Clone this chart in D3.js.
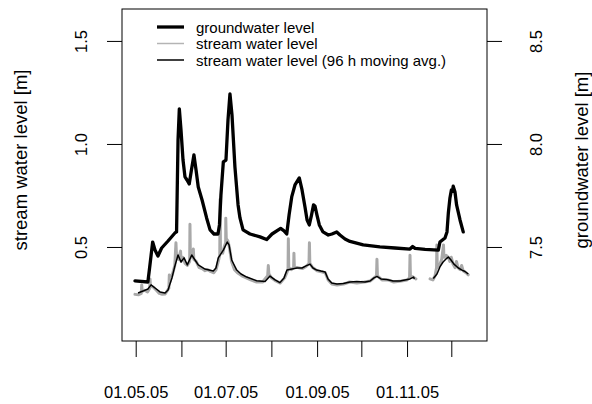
<!DOCTYPE html>
<html><head><meta charset="utf-8">
<script src="https://cdn.jsdelivr.net/npm/d3@7"></script>
<style>
body{margin:0;background:#fff}
svg{display:block}
text{font-family:"Liberation Sans",Arial,Helvetica,sans-serif;fill:#000}
</style>
</head><body>
<svg id="c" width="592" height="404"></svg>
<script>
// ---------------- data ----------------
const gwDates = ["2005-04-30 12","2005-05-09 06","2005-05-10 10","2005-05-12 12","2005-05-14 02","2005-05-16 02","2005-05-18 14","2005-05-22 22","2005-05-27 14","2005-05-28 17","2005-05-29 17","2005-05-30 14","2005-05-31 17","2005-06-02 02","2005-06-03 10","2005-06-04 19","2005-06-06 07","2005-06-07 19","2005-06-09 12","2005-06-10 22","2005-06-12 10","2005-06-15 00","2005-06-18 02","2005-06-20 10","2005-06-23 02","2005-06-25 19","2005-06-26 19","2005-06-27 19","2005-06-29 10","2005-07-01 05","2005-07-02 14","2005-07-03 22","2005-07-05 07","2005-07-07 07","2005-07-09 10","2005-07-10 17","2005-07-12 19","2005-07-17 12","2005-07-24 07","2005-07-28 19","2005-08-01 10","2005-08-07 07","2005-08-09 14","2005-08-11 10","2005-08-13 00","2005-08-14 19","2005-08-17 00","2005-08-19 22","2005-08-21 19","2005-08-23 19","2005-08-25 05","2005-08-26 17","2005-08-28 05","2005-08-29 14","2005-08-30 14","2005-08-31 22","2005-09-02 12","2005-09-05 00","2005-09-08 14","2005-09-11 02","2005-09-14 07","2005-09-16 12","2005-09-19 22","2005-09-23 07","2005-10-02 07","2005-10-13 14","2005-10-23 19","2005-11-03 00","2005-11-04 19","2005-11-06 10","2005-11-13 05","2005-11-22 05","2005-11-23 07","2005-11-26 17","2005-11-28 02","2005-11-29 00","2005-11-30 02","2005-12-01 02","2005-12-01 19","2005-12-02 07","2005-12-03 12","2005-12-04 14","2005-12-06 22","2005-12-09 02"];
const gwValues = [7.335,7.330,7.398,7.524,7.485,7.456,7.495,7.529,7.568,7.573,8.020,8.170,8.068,7.922,7.840,7.825,7.806,7.874,7.947,7.874,7.791,7.728,7.641,7.583,7.563,7.563,7.607,7.752,7.913,7.922,8.117,8.243,8.141,7.888,7.704,7.641,7.583,7.563,7.549,7.536,7.563,7.590,7.578,7.563,7.655,7.743,7.801,7.835,7.777,7.694,7.631,7.607,7.655,7.704,7.699,7.655,7.607,7.573,7.558,7.563,7.573,7.558,7.539,7.527,7.510,7.501,7.495,7.490,7.502,7.493,7.488,7.485,7.524,7.544,7.573,7.665,7.738,7.777,7.770,7.795,7.767,7.704,7.631,7.573];

const avgDates = ["2005-05-02 14","2005-05-05 22","2005-05-09 07","2005-05-11 10","2005-05-14 02","2005-05-17 12","2005-05-20 22","2005-05-22 22","2005-05-25 14","2005-05-27 14","2005-05-29 17","2005-05-31 17","2005-06-02 19","2005-06-05 00","2005-06-08 00","2005-06-10 05","2005-06-12 10","2005-06-17 00","2005-06-22 14","2005-06-24 10","2005-06-26 00","2005-06-29 10","2005-07-02 02","2005-07-03 07","2005-07-05 02","2005-07-08 12","2005-07-11 10","2005-07-15 07","2005-07-22 00","2005-07-27 17","2005-07-31 02","2005-08-03 12","2005-08-06 19","2005-08-09 14","2005-08-11 14","2005-08-15 00","2005-08-18 10","2005-08-21 19","2005-08-24 12","2005-08-27 05","2005-08-29 05","2005-08-31 17","2005-09-03 14","2005-09-06 10","2005-09-08 10","2005-09-10 22","2005-09-14 12","2005-09-18 19","2005-09-23 07","2005-09-27 22","2005-10-03 12","2005-10-06 22","2005-10-09 14","2005-10-11 14","2005-10-14 07","2005-10-18 05","2005-10-22 12","2005-10-27 05","2005-10-30 14","2005-11-03 00","2005-11-05 10","2005-11-06 00","2005-11-13 00","2005-11-18 19","2005-11-21 07","2005-11-23 07","2005-11-25 10","2005-11-27 10","2005-11-29 00","2005-11-30 19","2005-12-02 19","2005-12-05 19","2005-12-08 07","2005-12-10 07","2005-12-12 12"];
const avgValues = [0.277,0.286,0.296,0.316,0.301,0.282,0.277,0.291,0.350,0.408,0.461,0.427,0.447,0.413,0.461,0.437,0.413,0.393,0.383,0.398,0.447,0.485,0.524,0.510,0.437,0.388,0.369,0.354,0.336,0.332,0.359,0.340,0.327,0.350,0.388,0.393,0.398,0.398,0.408,0.417,0.398,0.388,0.383,0.379,0.345,0.325,0.320,0.323,0.330,0.332,0.330,0.335,0.350,0.357,0.345,0.342,0.335,0.335,0.340,0.345,0.354,0.345,null,0.347,0.369,0.403,0.427,0.442,0.451,0.437,0.417,0.398,0.388,0.381,0.369];

const streamDates = ["2005-04-30 12","2005-05-03 00","2005-05-04 19","2005-05-05 02","2005-05-05 10","2005-05-07 00","2005-05-09 00","2005-05-10 12","2005-05-10 17","2005-05-11 00","2005-05-13 00","2005-05-15 00","2005-05-17 00","2005-05-19 00","2005-05-21 00","2005-05-23 12","2005-05-23 19","2005-05-24 05","2005-05-26 00","2005-05-27 12","2005-05-28 07","2005-05-28 17","2005-05-30 00","2005-05-31 10","2005-05-31 19","2005-06-02 00","2005-06-03 12","2005-06-05 00","2005-06-06 14","2005-06-06 19","2005-06-07 02","2005-06-08 12","2005-06-09 02","2005-06-09 10","2005-06-11 00","2005-06-13 00","2005-06-15 00","2005-06-17 00","2005-06-19 00","2005-06-21 00","2005-06-23 00","2005-06-24 12","2005-06-26 00","2005-06-27 00","2005-06-27 05","2005-06-27 12","2005-06-29 00","2005-06-30 00","2005-07-01 00","2005-07-01 02","2005-07-01 10","2005-07-02 12","2005-07-03 12","2005-07-05 00","2005-07-07 00","2005-07-09 00","2005-07-12 00","2005-07-15 00","2005-07-18 00","2005-07-22 00","2005-07-26 00","2005-07-29 12","2005-07-29 22","2005-07-30 07","2005-08-01 00","2005-08-04 00","2005-08-07 00","2005-08-10 00","2005-08-12 07","2005-08-12 12","2005-08-12 19","2005-08-14 12","2005-08-16 02","2005-08-16 07","2005-08-16 14","2005-08-19 00","2005-08-22 00","2005-08-24 12","2005-08-26 12","2005-08-26 19","2005-08-27 02","2005-08-29 00","2005-09-01 00","2005-09-04 00","2005-09-06 12","2005-09-08 12","2005-09-11 00","2005-09-14 12","2005-09-19 00","2005-09-23 00","2005-09-28 00","2005-10-03 00","2005-10-07 00","2005-10-11 07","2005-10-11 14","2005-10-11 22","2005-10-15 00","2005-10-19 00","2005-10-23 00","2005-10-28 00","2005-11-01 00","2005-11-02 17","2005-11-03 00","2005-11-03 07","2005-11-05 00","2005-11-07 00","2005-11-12 00","2005-11-16 14","2005-11-18 12","2005-11-20 00","2005-11-21 00","2005-11-21 05","2005-11-21 12","2005-11-23 00","2005-11-24 12","2005-11-25 17","2005-11-26 00","2005-11-27 12","2005-11-29 00","2005-11-30 00","2005-12-01 00","2005-12-02 00","2005-12-03 12","2005-12-04 12","2005-12-05 12","2005-12-07 00","2005-12-08 00","2005-12-09 00","2005-12-11 00","2005-12-12 12"];
const streamValues = [0.270,0.268,0.275,0.316,0.285,0.290,0.282,0.300,0.345,0.310,0.305,0.290,0.275,0.270,0.272,0.300,0.364,0.330,0.370,0.410,0.520,0.450,0.440,0.480,0.430,0.450,0.420,0.410,0.430,0.610,0.450,0.450,0.490,0.440,0.430,0.400,0.395,0.385,0.390,0.380,0.375,0.390,0.430,0.460,0.730,0.480,0.470,0.500,0.520,0.640,0.540,0.530,0.500,0.430,0.390,0.375,0.360,0.350,0.340,0.330,0.330,0.360,0.410,0.370,0.350,0.335,0.325,0.350,0.390,0.540,0.400,0.390,0.400,0.470,0.400,0.400,0.395,0.405,0.420,0.520,0.420,0.400,0.385,0.380,0.375,0.340,0.320,0.315,0.320,0.330,0.325,0.330,0.335,0.360,0.440,0.360,0.340,0.340,0.330,0.335,0.340,0.350,0.460,0.355,0.355,0.345,null,0.345,0.340,0.360,0.400,0.510,0.400,0.410,0.440,0.510,0.450,0.460,0.450,0.430,0.450,0.420,0.400,0.430,0.400,0.390,0.410,0.385,0.375,0.365];

const monthTicks = ["2005-05-01 00","2005-06-01 00","2005-07-01 00","2005-08-01 00","2005-09-01 00","2005-10-01 00","2005-11-01 00","2005-12-01 00"];
const monthLabels = ["01.05.05","","01.07.05","","01.09.05","","01.11.05",""];
const leftTicks = [0.5, 1.0, 1.5];
const rightTicks = [7.5, 8.0, 8.5];
const legendLabels = ["groundwater level","stream water level","stream water level (96 h moving avg.)"];
const leftTitle = "stream water level [m]";
const rightTitle = "groundwater level [m]";

// ---------------- layout ----------------
const P = {l:122, r:487, t:9, b:341};
const parse = d3.timeParse("%Y-%m-%d %H");
const svg = d3.select("#c");

const x = d3.scaleTime()
  .domain([parse("2005-04-21 17"), parse("2005-12-25 05")])
  .range([P.l, P.r]);
const yS = d3.scaleLinear().domain([0.0437, 1.655]).range([P.b, P.t]);
const yG = d3.scaleLinear().domain([7.0437, 8.655]).range([P.b, P.t]);

const FS_TICK = 16.5, FS_TITLE = 18.5, FS_LEG = 15;

// series
const mk = (ds, vs) => ds.map((d,i)=>({t:parse(d), v:vs[i]}));
const stream = mk(streamDates, streamValues);
const avg = mk(avgDates, avgValues);
const gw = mk(gwDates, gwValues);

const lineS = d3.line().defined(d=>d.v!=null).x(d=>x(d.t)).y(d=>yS(d.v));
const lineG = d3.line().x(d=>x(d.t)).y(d=>yG(d.v));

svg.append("path").datum(stream).attr("d", lineS)
  .attr("fill","none").attr("stroke","#a9a9a9").attr("stroke-width",3)
  .attr("stroke-linejoin","round").attr("stroke-linecap","round");
svg.append("path").datum(avg).attr("d", lineS)
  .attr("fill","none").attr("stroke","#000").attr("stroke-width",1.5)
  .attr("stroke-linejoin","round");
svg.append("path").datum(gw).attr("d", lineG)
  .attr("fill","none").attr("stroke","#000").attr("stroke-width",3.3)
  .attr("stroke-linejoin","round").attr("stroke-linecap","round");

// box
svg.append("rect").attr("x",P.l).attr("y",P.t).attr("width",P.r-P.l).attr("height",P.b-P.t)
  .attr("fill","none").attr("stroke","#000").attr("stroke-width",1);

// bottom axis
const gx = svg.append("g").attr("transform",`translate(0,${P.b})`)
  .call(d3.axisBottom(x).tickValues(monthTicks.map(parse))
    .tickFormat((d,i)=>monthLabels[i]).tickSizeInner(16).tickSizeOuter(0).tickPadding(29));
gx.select(".domain").remove();
gx.selectAll("line").attr("stroke","#000");
gx.selectAll("text").style("font-size",FS_TICK+"px").attr("fill","#000")
  .attr("font-family",null);

// left axis
const gl = svg.append("g").attr("transform",`translate(${P.l},0)`)
  .call(d3.axisLeft(yS).tickValues(leftTicks).tickFormat(d3.format(".1f")).tickSizeInner(15).tickSizeOuter(0));
gl.select(".domain").remove();
gl.selectAll("line").attr("stroke","#000");
gl.selectAll("text").style("font-size",FS_TICK+"px").attr("fill","#000")
  .attr("x",null).attr("dy",null).attr("text-anchor","middle")
  .attr("dominant-baseline","central").attr("transform","translate(-41,0) rotate(-90)");

// right axis
const gr = svg.append("g").attr("transform",`translate(${P.r},0)`)
  .call(d3.axisRight(yG).tickValues(rightTicks).tickFormat(d3.format(".1f")).tickSizeInner(15).tickSizeOuter(0));
gr.select(".domain").remove();
gr.selectAll("line").attr("stroke","#000");
gr.selectAll("text").style("font-size",FS_TICK+"px").attr("fill","#000")
  .attr("x",null).attr("dy",null).attr("text-anchor","middle")
  .attr("dominant-baseline","central").attr("transform","translate(49,0) rotate(-90)");

// titles
const cy = 160;
svg.append("text").attr("transform",`translate(20.5,${cy}) rotate(-90)`)
  .attr("text-anchor","middle").attr("dominant-baseline","central")
  .style("font-size",FS_TITLE+"px").text(leftTitle);
svg.append("text").attr("transform",`translate(581,${cy}) rotate(-90)`)
  .attr("text-anchor","middle").attr("dominant-baseline","central")
  .style("font-size",FS_TITLE+"px").text(rightTitle);

// legend
const legStyles = [{c:"#000",w:3.3},{c:"#b4b4b4",w:1.5},{c:"#000",w:1.5}];
const legY = [27, 43.5, 60];
const lg = svg.append("g");
legendLabels.forEach((lab,i)=>{
  lg.append("line").attr("x1",157).attr("x2",184).attr("y1",legY[i]).attr("y2",legY[i])
    .attr("stroke",legStyles[i].c).attr("stroke-width",legStyles[i].w);
  lg.append("text").attr("x",196).attr("y",legY[i]).attr("dominant-baseline","central")
    .style("font-size",FS_LEG+"px").text(lab);
});
</script>
</body></html>
